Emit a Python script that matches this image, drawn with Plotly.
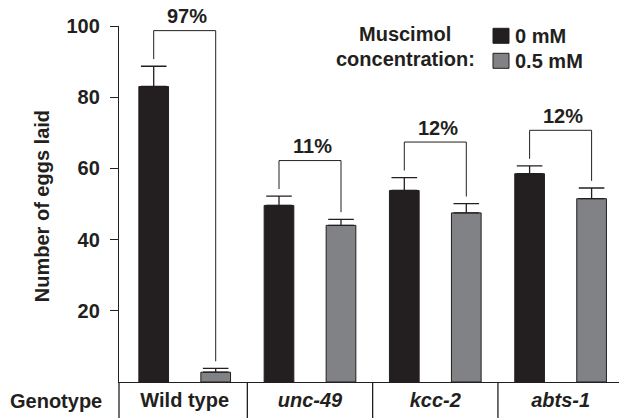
import plotly.graph_objects as go

# ---------------- data ----------------
genotypes = ["Wild type", "<i>unc-49</i>", "<i>kcc-2</i>", "<i>abts-1</i>"]
eggs_0mM = [83.0, 49.6, 53.8, 58.5]
err_0mM = [5.7, 2.6, 3.6, 2.2]
eggs_05mM = [2.75, 44.0, 47.5, 51.5]
err_05mM = [1.05, 1.7, 2.6, 3.0]
pct_labels = ["97%", "11%", "12%", "12%"]
y_ticks = [20, 40, 60, 80, 100]
series_names = ["0 mM", "0.5 mM"]

# ---------------- style / layout constants ----------------
W, H = 619, 418
ML, MR, MT, MB = 119, 0, 26, 36
PW, PH = W - ML - MR, H - MT - MB
X0, X1 = -0.5243, 3.4661
OFF = 0.2474
BAR_W = 0.237
DARK = "#231f20"
GRAY = "#808285"
FONT = "Liberation Sans, Arial, Helvetica, sans-serif"
FS = 20

def u2p(u):
    return (u - X0) / (X1 - X0)

def px2p(px):
    return (px - ML) / PW

def py2p(py):
    return (H - MB - py) / PH

idx = list(range(len(genotypes)))
x_black = [i - OFF for i in idx]
x_gray = [i + OFF for i in idx]

fig = go.Figure()
fig.add_trace(go.Bar(
    x=x_black, y=eggs_0mM, width=BAR_W, name=series_names[0],
    marker=dict(color=DARK, line=dict(color=DARK, width=1)),
    error_y=dict(type="data", array=err_0mM, arrayminus=[0] * 4, symmetric=False,
                 color=DARK, thickness=1.3, width=12.8),
    showlegend=False,
))
fig.add_trace(go.Bar(
    x=x_gray, y=eggs_05mM, width=BAR_W, name=series_names[1],
    marker=dict(color=GRAY, line=dict(color=DARK, width=1)),
    error_y=dict(type="data", array=err_05mM, arrayminus=[0] * 4, symmetric=False,
                 color=DARK, thickness=1.3, width=12.8),
    showlegend=False,
))

annotations = []
# brackets
for i in idx:
    cap_b = eggs_0mM[i] + err_0mM[i]
    cap_g = eggs_05mM[i] + err_05mM[i]
    top = cap_b + 10
    fig.add_trace(go.Scatter(
        x=[x_black[i], x_black[i], x_gray[i], x_gray[i]],
        y=[cap_b + 2, top, top, cap_g + 2],
        mode="lines", line=dict(color=DARK, width=1), showlegend=False,
        hoverinfo="skip",
    ))
    annotations.append(dict(
        x=i + 0.02, y=top, xref="x", yref="y", text=pct_labels[i], showarrow=False,
        yanchor="middle", xanchor="center", yshift=14.5,
        font=dict(family=FONT, size=FS, color=DARK, weight="bold"),
    ))

# y-axis title
annotations.append(dict(
    x=px2p(41.7), y=py2p(206.5), xref="paper", yref="paper",
    text="Number of eggs laid", textangle=-90, showarrow=False,
    xanchor="center", yanchor="middle",
    font=dict(family=FONT, size=FS, color=DARK, weight="bold"),
))
# Genotype label
annotations.append(dict(
    x=px2p(56), y=py2p(401), xref="paper", yref="paper",
    text="Genotype", showarrow=False, xanchor="center", yanchor="middle",
    font=dict(family=FONT, size=FS, color=DARK, weight="bold"),
))
# legend text
annotations.append(dict(
    x=px2p(404.5), y=py2p(34.5), xref="paper", yref="paper", text="Muscimol",
    showarrow=False, xanchor="center", yanchor="middle",
    font=dict(family=FONT, size=FS, color=DARK, weight="bold"),
))
annotations.append(dict(
    x=px2p(405), y=py2p(59.5), xref="paper", yref="paper", text="concentration:",
    showarrow=False, xanchor="center", yanchor="middle",
    font=dict(family=FONT, size=FS, color=DARK, weight="bold"),
))
for k, (name, yc) in enumerate(zip(series_names, [35.8, 60.8])):
    annotations.append(dict(
        x=px2p(513), y=py2p(yc), xref="paper", yref="paper", text=name,
        showarrow=False, xanchor="left", yanchor="middle",
        font=dict(family=FONT, size=FS, color=DARK, weight="bold"),
    ))

shapes = []
# legend swatches
for col, (ya, yb) in zip([DARK, GRAY], [(28.3, 43.3), (53.3, 68.3)]):
    shapes.append(dict(type="rect", xref="paper", yref="paper",
                       x0=px2p(493), x1=px2p(509), y0=py2p(yb), y1=py2p(ya),
                       fillcolor=col, line=dict(color=DARK, width=1)))
# genotype row separators
for u in [X0] + [i + 0.5 for i in idx[:-1]]:
    shapes.append(dict(type="line", xref="paper", yref="paper",
                       x0=u2p(u), x1=u2p(u), y0=0, y1=-MB / PH,
                       line=dict(color=DARK, width=1.3)))

fig.update_layout(
    width=W, height=H,
    margin=dict(l=ML, r=MR, t=MT, b=MB),
    plot_bgcolor="white", paper_bgcolor="white",
    font=dict(family=FONT, size=FS, color=DARK, weight="bold"),
    barmode="overlay",
    annotations=annotations, shapes=shapes,
    xaxis=dict(range=[X0, X1], showgrid=False, zeroline=False, showline=True,
               linecolor=DARK, linewidth=1.3, tickvals=idx, ticktext=genotypes,
               ticks="", tickfont=dict(family=FONT, size=FS, color=DARK, weight="bold")),
    yaxis=dict(range=[0, 100], showgrid=False, zeroline=False, showline=True,
               linecolor=DARK, linewidth=1.3, tickvals=y_ticks, ticks="outside",
               ticklen=8, tickwidth=1.3, tickcolor=DARK, ticklabelstandoff=6,
               tickfont=dict(family=FONT, size=FS, color=DARK, weight="bold")),
)

fig.write_html("out.html",
               config={"displayModeBar": False},
               post_script="document.body.style.margin='0';document.body.style.padding='0';")
